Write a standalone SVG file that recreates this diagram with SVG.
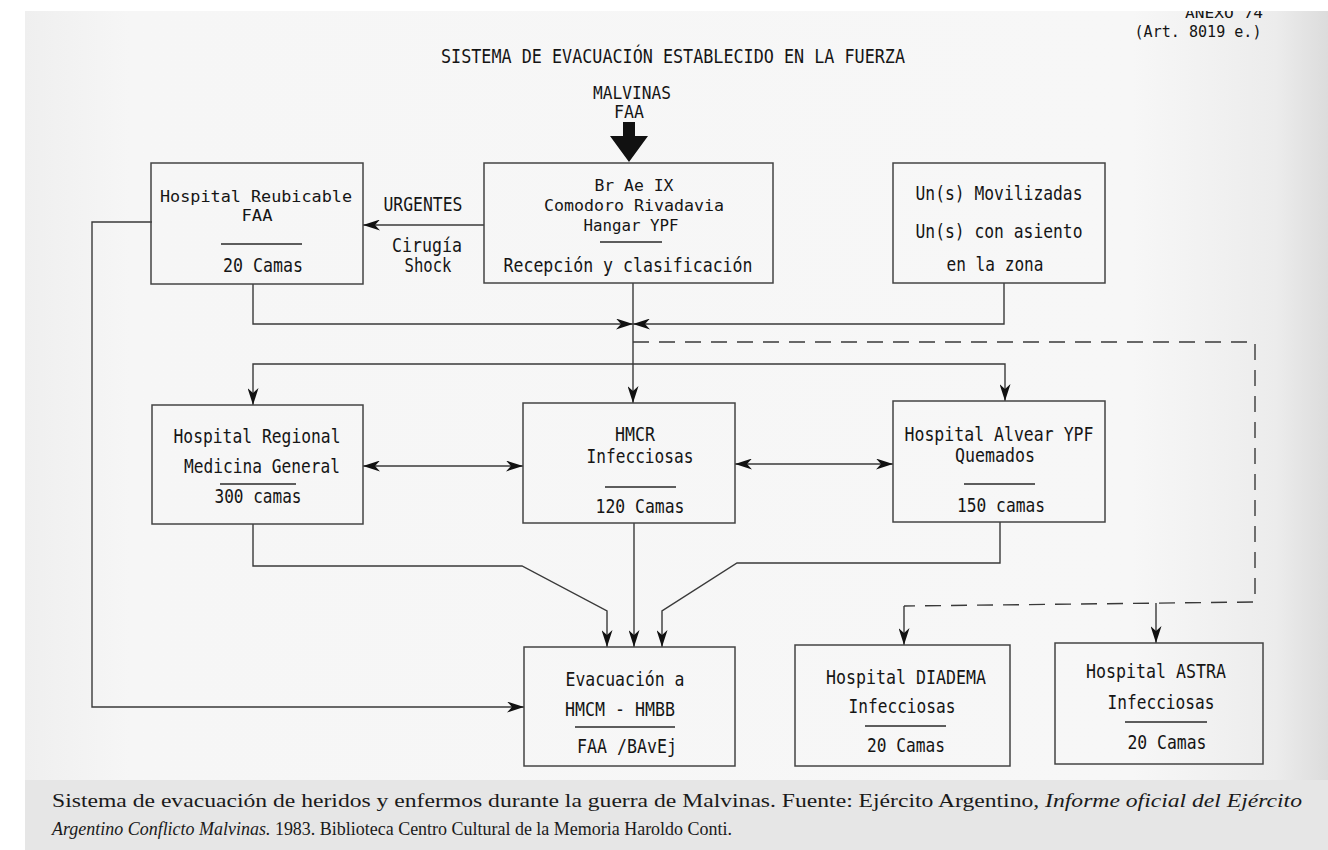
<svg xmlns="http://www.w3.org/2000/svg" width="1328" height="850" viewBox="0 0 1328 850">
<defs>
<linearGradient id="pg" x1="0" y1="0" x2="1" y2="0">
<stop offset="0" stop-color="#efefef"/>
<stop offset="0.08" stop-color="#f6f6f6"/>
<stop offset="0.85" stop-color="#f7f7f7"/>
<stop offset="0.96" stop-color="#ececec"/>
<stop offset="1" stop-color="#dcdcdc"/>
</linearGradient>
<marker id="ah" viewBox="0 0 17 11" refX="17" refY="5.5" markerWidth="17" markerHeight="11" markerUnits="userSpaceOnUse" orient="auto-start-reverse">
<path d="M0,0 L17,5.5 L0,11 L5,5.5 Z" fill="#111"/>
</marker>
<style>
.t{font-family:"DejaVu Sans Mono","Liberation Mono",monospace;font-size:19px;fill:#151515;text-anchor:middle}
.s{font-size:16.5px}
.box{fill:none;stroke:#444;stroke-width:1.5}
.sep{stroke:#2a2a2a;stroke-width:1.4}
.c{fill:none;stroke:#3a3a3a;stroke-width:1.4}
.d{fill:none;stroke:#3a3a3a;stroke-width:1.4;stroke-dasharray:16,10}
.cap{font-family:"Liberation Serif","DejaVu Serif",serif;font-size:19px;fill:#1a1a1a}
</style>
</defs>
<rect x="0" y="0" width="1328" height="850" fill="#ffffff"/>
<rect x="25" y="11" width="1303" height="769" fill="url(#pg)"/>
<rect x="25" y="780" width="1303" height="70" fill="#e6e6e6"/>

<g id="header">
<text class="t" x="1224" y="18" textLength="78" lengthAdjust="spacingAndGlyphs" style="font-size:14px">ANEXO 74</text>
<rect x="1150" y="0" width="178" height="11" fill="#ffffff"/>
<text class="t" x="1198" y="37" textLength="127" lengthAdjust="spacingAndGlyphs" style="font-size:15.5px">(Art. 8019 e.)</text>
<text class="t" x="673" y="63" textLength="464" lengthAdjust="spacingAndGlyphs">SISTEMA DE EVACUACIÓN ESTABLECIDO EN LA FUERZA</text>
</g>

<g id="malvinas">
<text class="t" x="632" y="99" textLength="78" lengthAdjust="spacingAndGlyphs" style="font-size:17px">MALVINAS</text>
<text class="t" x="629" y="118" textLength="30" lengthAdjust="spacingAndGlyphs" style="font-size:17px">FAA</text>
<path d="M623,122 H635 V136 H648 L629,162 L610,136 H623 Z" fill="#111"/>
</g>

<g id="connectors">
<line class="c" x1="484" y1="225" x2="363" y2="225" marker-end="url(#ah)"/>
<polyline class="c" points="253,284 253,324 633,324" marker-end="url(#ah)"/>
<polyline class="c" points="1004,283 1004,324 633,324" marker-end="url(#ah)"/>
<line class="c" x1="633" y1="283" x2="633" y2="403" marker-end="url(#ah)"/>
<polyline class="c" points="633,364 253,364 253,405" marker-end="url(#ah)"/>
<polyline class="c" points="633,364 1005,364 1005,401" marker-end="url(#ah)"/>
<polyline class="d" points="633,342 1255,342 1255,602 904,606"/>
<line class="c" x1="904" y1="606" x2="904" y2="645" marker-end="url(#ah)"/>
<line class="c" x1="1156" y1="603" x2="1156" y2="643" marker-end="url(#ah)"/>
<line class="c" x1="363" y1="466" x2="523" y2="466" marker-start="url(#ah)" marker-end="url(#ah)"/>
<line class="c" x1="735" y1="464" x2="893" y2="464" marker-start="url(#ah)" marker-end="url(#ah)"/>
<polyline class="c" points="253,524 253,566 522,566 607,611 607,647" marker-end="url(#ah)"/>
<line class="c" x1="634" y1="523" x2="634" y2="647" marker-end="url(#ah)"/>
<polyline class="c" points="1000,522 1000,563 737,563 662,611 662,647" marker-end="url(#ah)"/>
<polyline class="c" points="152,222 92,222 92,707 524,707" marker-end="url(#ah)"/>
</g>

<g id="labels">
<text class="t" x="423" y="211" textLength="79" lengthAdjust="spacingAndGlyphs">URGENTES</text>
<text class="t" x="427" y="252" textLength="70" lengthAdjust="spacingAndGlyphs">Cirugía</text>
<text class="t" x="428" y="272" textLength="47" lengthAdjust="spacingAndGlyphs">Shock</text>
</g>

<g id="reubicable">
<rect class="box" x="151" y="163" width="212" height="121"/>
<text class="t s" x="256" y="202" textLength="192" lengthAdjust="spacingAndGlyphs" style="font-size:16px">Hospital Reubicable</text>
<text class="t s" x="257" y="221" textLength="31" lengthAdjust="spacingAndGlyphs" style="font-size:16px">FAA</text>
<line class="sep" x1="221" y1="244" x2="302" y2="244"/>
<text class="t" x="263" y="272" textLength="80" lengthAdjust="spacingAndGlyphs">20 Camas</text>
</g>

<g id="brae">
<rect class="box" x="484" y="163" width="289" height="120"/>
<text class="t s" x="634" y="191" textLength="79" lengthAdjust="spacingAndGlyphs">Br Ae IX</text>
<text class="t s" x="634" y="211" textLength="180" lengthAdjust="spacingAndGlyphs">Comodoro Rivadavia</text>
<text class="t s" x="631" y="231" textLength="95" lengthAdjust="spacingAndGlyphs">Hangar YPF</text>
<line class="sep" x1="600" y1="242" x2="662" y2="242"/>
<text class="t" x="628" y="272" textLength="249" lengthAdjust="spacingAndGlyphs">Recepción y clasificación</text>
</g>

<g id="unidades">
<rect class="box" x="893" y="163" width="212" height="120"/>
<text class="t" x="999" y="200" textLength="167" lengthAdjust="spacingAndGlyphs">Un(s) Movilizadas</text>
<text class="t" x="999" y="238" textLength="167" lengthAdjust="spacingAndGlyphs">Un(s) con asiento</text>
<text class="t" x="995" y="271" textLength="97" lengthAdjust="spacingAndGlyphs">en la zona</text>
</g>

<g id="regional">
<rect class="box" x="152" y="405" width="211" height="119"/>
<text class="t" x="257" y="443" textLength="167" lengthAdjust="spacingAndGlyphs">Hospital Regional</text>
<text class="t" x="262" y="473" textLength="156" lengthAdjust="spacingAndGlyphs">Medicina General</text>
<line class="sep" x1="220" y1="484" x2="296" y2="484"/>
<text class="t" x="258" y="503" textLength="87" lengthAdjust="spacingAndGlyphs">300 camas</text>
</g>

<g id="hmcr">
<rect class="box" x="523" y="403" width="212" height="120"/>
<text class="t" x="635" y="441" textLength="40" lengthAdjust="spacingAndGlyphs">HMCR</text>
<text class="t" x="640" y="463" textLength="107" lengthAdjust="spacingAndGlyphs">Infecciosas</text>
<line class="sep" x1="605" y1="487" x2="676" y2="487"/>
<text class="t" x="640" y="513" textLength="89" lengthAdjust="spacingAndGlyphs">120 Camas</text>
</g>

<g id="alvear">
<rect class="box" x="893" y="401" width="212" height="121"/>
<text class="t" x="999" y="441" textLength="189" lengthAdjust="spacingAndGlyphs">Hospital Alvear YPF</text>
<text class="t" x="995" y="462" textLength="80" lengthAdjust="spacingAndGlyphs">Quemados</text>
<line class="sep" x1="964" y1="484" x2="1035" y2="484"/>
<text class="t" x="1001" y="512" textLength="88" lengthAdjust="spacingAndGlyphs">150 camas</text>
</g>

<g id="evacuacion">
<rect class="box" x="524" y="647" width="211" height="119"/>
<text class="t" x="625" y="686" textLength="119" lengthAdjust="spacingAndGlyphs">Evacuación a</text>
<text class="t" x="620" y="716" textLength="110" lengthAdjust="spacingAndGlyphs">HMCM - HMBB</text>
<line class="sep" x1="575" y1="727" x2="675" y2="727"/>
<text class="t" x="627" y="753" textLength="100" lengthAdjust="spacingAndGlyphs">FAA /BAvEj</text>
</g>

<g id="diadema">
<rect class="box" x="795" y="645" width="215" height="121"/>
<text class="t" x="906" y="684" textLength="160" lengthAdjust="spacingAndGlyphs">Hospital DIADEMA</text>
<text class="t" x="902" y="713" textLength="107" lengthAdjust="spacingAndGlyphs">Infecciosas</text>
<line class="sep" x1="865" y1="726" x2="946" y2="726"/>
<text class="t" x="906" y="752" textLength="78" lengthAdjust="spacingAndGlyphs">20 Camas</text>
</g>

<g id="astra">
<rect class="box" x="1055" y="643" width="208" height="121"/>
<text class="t" x="1156" y="678" textLength="140" lengthAdjust="spacingAndGlyphs">Hospital ASTRA</text>
<text class="t" x="1161" y="709" textLength="107" lengthAdjust="spacingAndGlyphs">Infecciosas</text>
<line class="sep" x1="1125" y1="722" x2="1207" y2="722"/>
<text class="t" x="1167" y="749" textLength="79" lengthAdjust="spacingAndGlyphs">20 Camas</text>
</g>

<g id="caption">
<text class="cap" x="52" y="807" textLength="1250" lengthAdjust="spacingAndGlyphs">Sistema de evacuación de heridos y enfermos durante la guerra de Malvinas. Fuente: Ejército Argentino, <tspan font-style="italic">Informe oficial del Ejército</tspan></text>
<text class="cap" x="52" y="835" textLength="680" lengthAdjust="spacingAndGlyphs"><tspan font-style="italic">Argentino Conflicto Malvinas.</tspan> 1983. Biblioteca Centro Cultural de la Memoria Haroldo Conti.</text>
</g>
</svg>
